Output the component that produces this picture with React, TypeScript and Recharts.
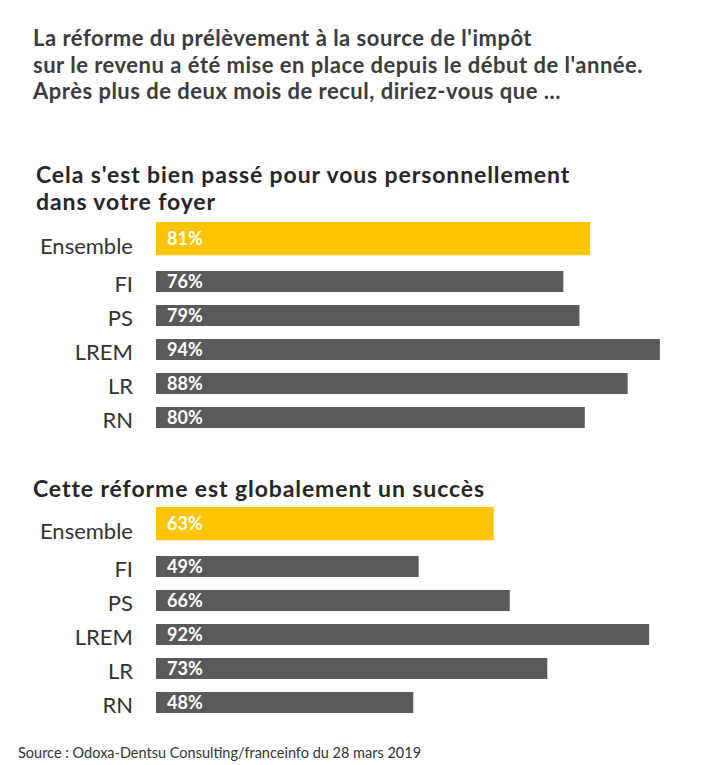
import { Bar, BarChart, LabelList, XAxis, YAxis } from "recharts";

const titleLines = [
  "La réforme du prélèvement à la source de l'impôt",
  "sur le revenu a été mise en place depuis le début de l'année.",
  "Après plus de deux mois de recul, diriez-vous que ...",
];
const question1 = ["Cela s'est bien passé pour vous personnellement", "dans votre foyer"];
const question2 = ["Cette réforme est globalement un succès"];
const overallLabel = "Ensemble";
const parties = ["FI", "PS", "LREM", "LR", "RN"];
const overall1 = 81;
const byParty1 = [76, 79, 94, 88, 80];
const overall2 = 63;
const byParty2 = [49, 66, 92, 73, 48];
const source = "Source : Odoxa-Dentsu Consulting/franceinfo du 28 mars 2019";

const YELLOW = "#ffc400";
const GREY = "#5a5a5a";
const FONT = "Lato, 'Noto Sans', sans-serif";
const CHART_W = 692;
const AXIS_W = 156;

function makeTick(dy: number) {
  return function Tick(props: any) {
    const { x, y, payload } = props;
    return (
      <text x={x} y={y} dy={dy} textAnchor="end" fill="#333" fontSize={22} fontFamily={FONT}>
        {payload.value}
      </text>
    );
  };
}

function ValueLabel(props: any) {
  const { x, y, height, value } = props;
  return (
    <text
      x={x + 11}
      y={y + height / 2}
      dy={6}
      fill="#fff"
      fontSize={18}
      fontWeight={700}
      fontFamily={FONT}
    >
      {value}%
    </text>
  );
}

function Section({
  top,
  overall,
  values,
}: {
  top: number;
  overall: number;
  values: number[];
}) {
  const overallData = [{ name: overallLabel, value: overall }];
  const partyData = parties.map((name, i) => ({ name, value: values[i] }));
  return (
    <>
      <div style={{ position: "absolute", left: 0, top }}>
        <BarChart
          width={CHART_W}
          height={37}
          data={overallData}
          layout="vertical"
          margin={{ top: 0, right: 0, bottom: 0, left: 0 }}
        >
          <XAxis type="number" domain={[0, 100]} hide />
          <YAxis
            type="category"
            dataKey="name"
            width={AXIS_W}
            axisLine={false}
            tickLine={false}
            tickSize={0}
            tickMargin={23}
            tick={makeTick(15)}
          />
          <Bar dataKey="value" fill={YELLOW} barSize={37} isAnimationActive={false}>
            <LabelList dataKey="value" content={ValueLabel} />
          </Bar>
        </BarChart>
      </div>
      <div style={{ position: "absolute", left: 0, top: top + 44 }}>
        <BarChart
          width={CHART_W}
          height={170}
          data={partyData}
          layout="vertical"
          margin={{ top: 0, right: 0, bottom: 0, left: 0 }}
        >
          <XAxis type="number" domain={[0, 100]} hide />
          <YAxis
            type="category"
            dataKey="name"
            width={AXIS_W}
            axisLine={false}
            tickLine={false}
            tickSize={0}
            tickMargin={23}
            tick={makeTick(11)}
          />
          <Bar dataKey="value" fill={GREY} barSize={21} isAnimationActive={false}>
            <LabelList dataKey="value" content={ValueLabel} />
          </Bar>
        </BarChart>
      </div>
    </>
  );
}

export default function App() {
  const heading = {
    position: "absolute" as const,
    fontFamily: FONT,
    fontWeight: 700,
    whiteSpace: "nowrap" as const,
  };
  const question = {
    ...heading,
    fontSize: 23,
    lineHeight: "27px",
    letterSpacing: "0.9px",
    color: "#262626",
  };
  return (
    <div
      style={{
        position: "absolute",
        left: 0,
        top: 0,
        width: 720,
        height: 765,
        background: "#fff",
        overflow: "hidden",
      }}
    >
      <div
        style={{
          ...heading,
          left: 33,
          top: 25,
          fontSize: 22,
          lineHeight: "26.5px",
          letterSpacing: "0.5px",
          color: "#3c3c3c",
        }}
      >
        {titleLines.map((l) => (
          <div key={l}>{l}</div>
        ))}
      </div>
      <div style={{ ...question, left: 36, top: 161 }}>
        {question1.map((l) => (
          <div key={l}>{l}</div>
        ))}
      </div>
      <Section top={220} overall={overall1} values={byParty1} />
      <div style={{ ...question, left: 33, top: 475 }}>
        {question2.map((l) => (
          <div key={l}>{l}</div>
        ))}
      </div>
      <Section top={505} overall={overall2} values={byParty2} />
      <div
        style={{
          position: "absolute",
          left: 18,
          top: 744,
          fontFamily: FONT,
          fontSize: 14.5,
          color: "#333",
          whiteSpace: "nowrap",
        }}
      >
        {source}
      </div>
    </div>
  );
}
